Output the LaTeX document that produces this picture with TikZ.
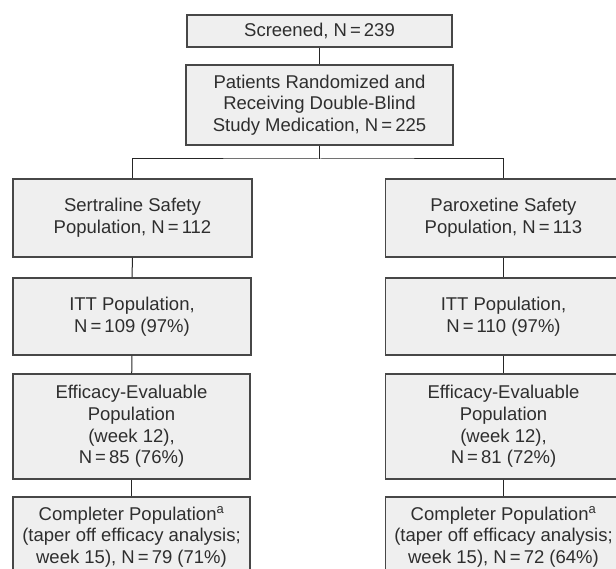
\documentclass[tikz,border=0pt]{standalone}
\usepackage{fontspec}
\setmainfont{Liberation Sans}
\definecolor{boxfill}{HTML}{EFEFEF}
\definecolor{boxline}{HTML}{474747}
\definecolor{boxtext}{HTML}{2E2E2E}
\tikzset{
  flowbox/.style={draw=boxline, line width=1.2pt, fill=boxfill, text=boxtext,
    align=center, inner sep=0pt, font=\fontsize{18.5}{21.7}\selectfont},
  link/.style={draw=black!85, line width=1pt}
}
\begin{document}
\begin{tikzpicture}[x=1pt,y=-1pt]
            \useasboundingbox (0,0) rectangle (616,569);
            \node[flowbox, minimum width=265pt, minimum height=32pt] (screen) at (319.5,31) {Screened, N\,=\,239};
            \node[flowbox, minimum width=267pt, minimum height=80pt] (rand) at (319.5,105) {Patients Randomized and\\Receiving Double-Blind\\Study Medication, N\,=\,225};
            \coordinate (split) at (319.5,159);
            \node[flowbox, minimum width=239pt, minimum height=78pt] (sertsafe) at (132.5,218) {Sertraline Safety\\Population, N\,=\,112};
            \node[flowbox, minimum width=238pt, minimum height=77pt] (sertitt) at (132,316.5) {ITT Population,\\N\,=\,109 (97\%)};
            \node[flowbox, minimum width=237pt, minimum height=105pt] (serteff) at (131.5,426.5) {Efficacy-Evaluable\\Population\\(week 12),\\N\,=\,85 (76\%)};
            \node[flowbox, minimum width=237pt, minimum height=80pt] (sertcomp) at (131.5,537) {Completer Population\textsuperscript{a}\\(taper off efficacy analysis;\\week 15), N\,=\,79 (71\%)};
            \node[flowbox, minimum width=236pt, minimum height=78pt] (parosafe) at (503.5,218) {Paroxetine Safety\\Population, N\,=\,113};
            \node[flowbox, minimum width=236pt, minimum height=77pt] (paroitt) at (503.5,316.5) {ITT Population,\\N\,=\,110 (97\%)};
            \node[flowbox, minimum width=236pt, minimum height=105pt] (paroeff) at (503.5,426.5) {Efficacy-Evaluable\\Population\\(week 12),\\N\,=\,81 (72\%)};
            \node[flowbox, minimum width=236pt, minimum height=80pt] (parocomp) at (503.5,537) {Completer Population\textsuperscript{a}\\(taper off efficacy analysis;\\week 15), N\,=\,72 (64\%)};
            \draw[link] (screen) -- (rand);
            \draw[link] (rand) -- (split);
            \draw[link] (sertsafe.north) |- (split) -| (parosafe.north);
            \draw[link] (sertsafe) -- (sertitt);
            \draw[link] (sertitt) -- (serteff);
            \draw[link] (serteff) -- (sertcomp);
            \draw[link] (parosafe) -- (paroitt);
            \draw[link] (paroitt) -- (paroeff);
            \draw[link] (paroeff) -- (parocomp);
        \end{tikzpicture}
\end{document}
